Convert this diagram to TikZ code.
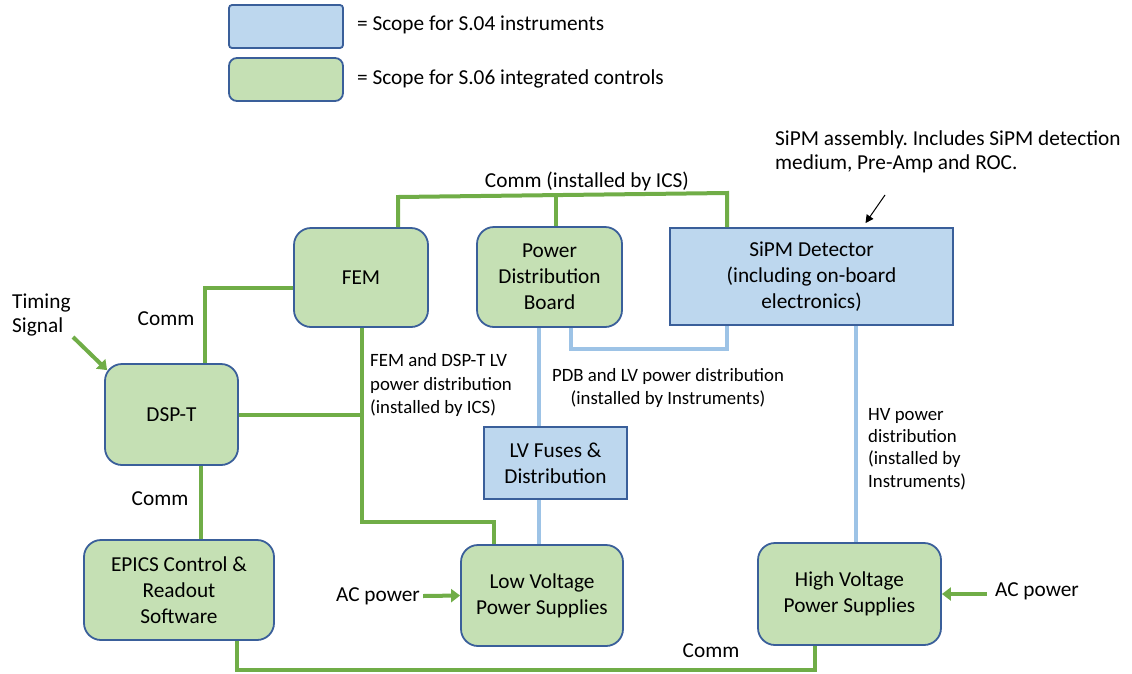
\documentclass[tikz,border=0pt]{standalone}
\usepackage{fontspec}
\setmainfont{Carlito}
\usetikzlibrary{arrows.meta}
\frenchspacing
\definecolor{gfill}{HTML}{C5E0B4}
\definecolor{bfill}{HTML}{BDD7EE}
\definecolor{gline}{HTML}{70AD47}
\definecolor{bline}{HTML}{9DC3E6}
\definecolor{edge}{HTML}{3A5F9A}
\tikzset{
  gbox/.style={draw=edge, line width=1.8pt, fill=gfill, rounded corners=17pt, align=center, inner sep=0pt, font=\fontsize{21.3}{26}\selectfont},
  bbox/.style={draw=edge, line width=1.8pt, fill=bfill, align=center, inner sep=0pt, font=\fontsize{21.3}{26}\selectfont},
  gwire/.style={draw=gline, line width=4pt, line join=miter},
  bwire/.style={draw=bline, line width=4pt, line join=miter},
  garrow/.style={draw=gline, line width=4pt, -{Triangle[length=9pt,width=13pt]}},
  lbl/.style={font=\fontsize{21.3}{24.5}\selectfont, inner sep=0pt, align=left},
  slbl/.style={font=\fontsize{18.8}{23.5}\selectfont, inner sep=0pt, align=left},
}
\begin{document}
\begin{tikzpicture}[x=1pt,y=-1pt]
\useasboundingbox (0,0) rectangle (1132,673);
% legend
\node[bbox, rounded corners=3pt, minimum width=114pt, minimum height=43pt] (leg1) at (286,26.5) {};
\node[gbox, rounded corners=8pt, minimum width=114pt, minimum height=43pt] (leg2) at (286,79.5) {};
\node[lbl, anchor=west] (legt1) at (357,24.5) {= Scope for S.04 instruments};
\node[lbl, anchor=west] (legt2) at (357,78.5) {= Scope for S.06 integrated controls};
% boxes
\node[gbox, minimum width=134pt, minimum height=99pt] (fem) at (361,277.5) {FEM};
\node[gbox, minimum width=145pt, minimum height=100pt] (pdb) at (549.5,277) {Power\\Distribution\\Board};
\node[bbox, minimum width=283pt, minimum height=97pt] (sipm) at (811.5,276.5) {SiPM Detector\\(including on-board\\electronics)};
\node[gbox, minimum width=133pt, minimum height=101pt] (dspt) at (171.5,414.5) {DSP-T};
\node[bbox, minimum width=143pt, minimum height=72pt] (lvf) at (555.5,463) {LV Fuses \&\\Distribution};
\node[gbox, minimum width=190pt, minimum height=100pt] (epics) at (179,590) {EPICS Control \&\\Readout\\Software};
\node[gbox, minimum width=162pt, minimum height=101pt] (lvps) at (542,595.5) {Low Voltage\\Power Supplies};
\node[gbox, minimum width=183pt, minimum height=102pt] (hvps) at (849.5,594) {High Voltage\\Power Supplies};
% labels
\node[lbl] (commtop) at (587,181) {Comm (installed by ICS)};
\node[lbl, anchor=west] (sipmnote) at (775,152) {SiPM assembly. Includes SiPM detection\\medium, Pre-Amp and ROC.};
\node[lbl, anchor=west] (timing) at (12,315) {Timing\\Signal};
\node[lbl] (comm1) at (166,319) {Comm};
\node[lbl] (comm2) at (160,499) {Comm};
\node[lbl] (comm3) at (711,651) {Comm};
\node[slbl, anchor=west] (femlv) at (370,385) {FEM and DSP-T LV\\power distribution\\(installed by ICS)};
\node[slbl, align=center] (pdblv) at (668,388) {PDB and LV power distribution\\(installed by Instruments)};
\node[slbl, anchor=west, font=\fontsize{18.8}{22.3}\selectfont] (hvlbl) at (868,449) {HV power\\distribution\\(installed by\\Instruments)};
\node[lbl] (acl) at (378,596) {AC power};
\node[lbl] (acr) at (1037,591) {AC power};
% coordinates
\coordinate (c1) at (398,197);
\coordinate (c2) at (727,193);
\coordinate (c3) at (556,195);
\coordinate (c4) at (205,288);
\coordinate (c5) at (362,415);
\coordinate (c6) at (362,522);
\coordinate (c7) at (494,522);
\coordinate (c8) at (201,500);
\coordinate (c9) at (237,670);
\coordinate (c10) at (815,670);
\coordinate (c11) at (539,400);
\coordinate (c12) at (571,349);
\coordinate (c13) at (727,349);
\coordinate (c14) at (856,400);
\coordinate (ts) at (73,337);
\coordinate (ns) at (885,195);
% green wires
\draw[gwire] (fem.north -| c1) -- (c1) -- (c2) -- (sipm.north -| c2);
\draw[gwire] (c3) -- (pdb.north -| c3);
\draw[gwire] (fem.west |- c4) -- (c4) -- (dspt.north -| c4);
\draw[gwire] (dspt.east |- c5) -- (c5);
\draw[gwire] (fem.south -| c6) -- (c6) -- (c7) -- (lvps.north -| c7);
\draw[gwire] (dspt.south -| c8) -- (epics.north -| c8);
\draw[gwire] (epics.south -| c9) -- (c9) -- (c10) -- (hvps.south -| c10);
% blue wires
\draw[bwire] (pdb.south -| c11) -- (lvf.north -| c11);
\draw[bwire] (lvf.south -| c11) -- (lvps.north -| c11);
\draw[bwire] (pdb.south -| c12) -- (c12) -- (c13) -- (sipm.south -| c13);
\draw[bwire] (sipm.south -| c14) -- (hvps.north -| c14);
% arrows
\draw[garrow] (ts) -- ([shift={(3pt,-7pt)}]dspt.north west);
\draw[garrow] ([xshift=3pt]acl.east) -- (lvps.west);
\draw[garrow] (hvps.east -| acr.west) ++(-8pt,0) -- (hvps.east);
\draw[line width=1pt, -{Triangle[length=8pt,width=8pt]}] (ns) -- ([xshift=54pt,yshift=4pt]sipm.north);
\end{tikzpicture}
\end{document}
